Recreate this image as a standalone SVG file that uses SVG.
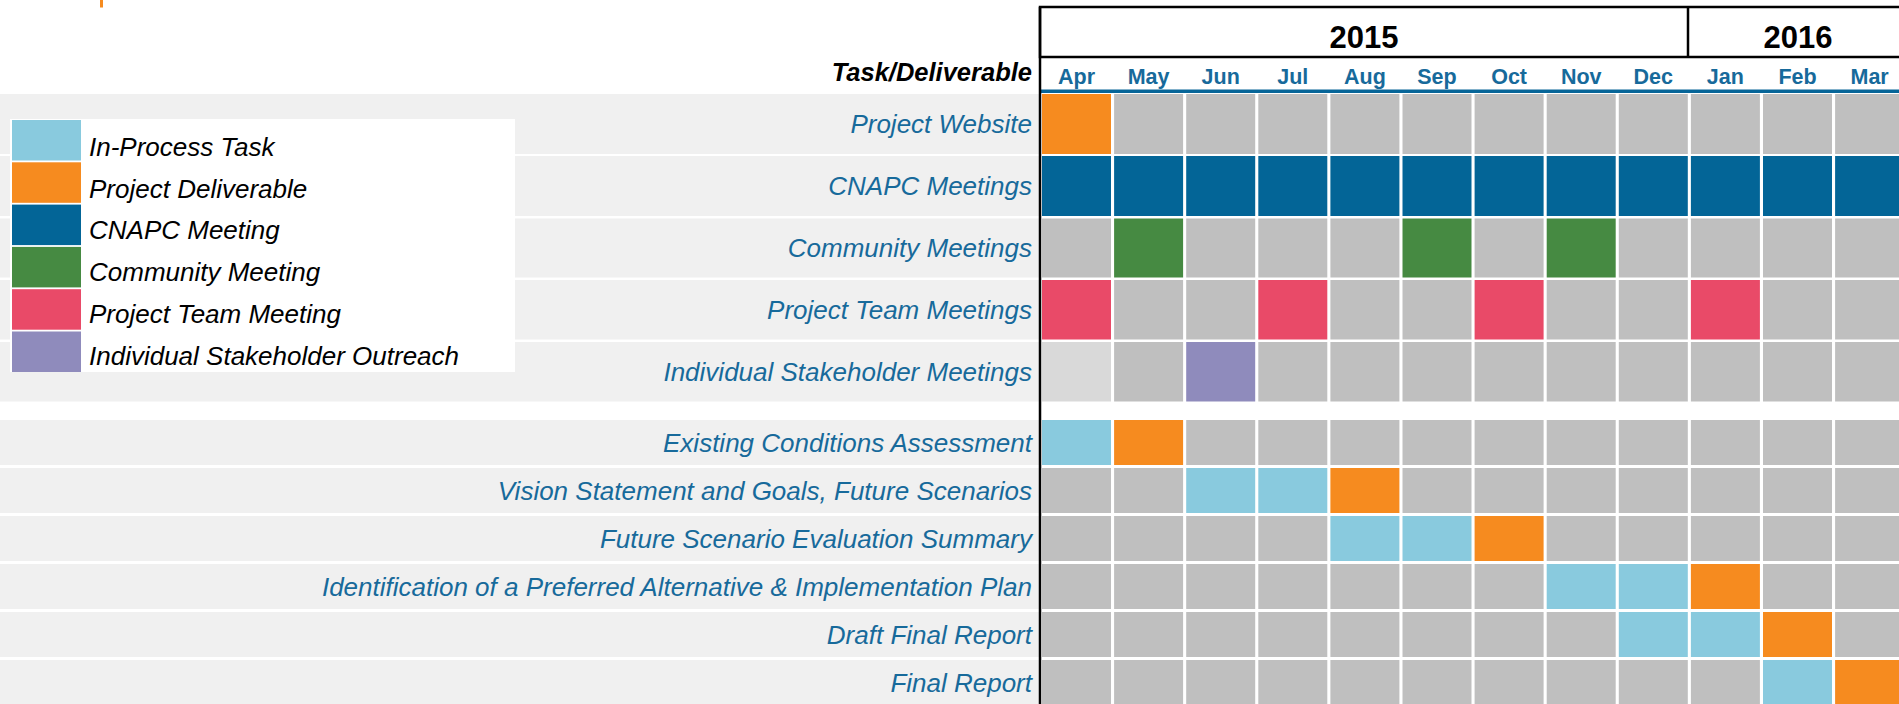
<svg xmlns="http://www.w3.org/2000/svg" width="1899" height="704" viewBox="0 0 1899 704">
<style>
.band{fill:#f0f0f0}
.g{fill:#bfbfbf}.lg{fill:#d9d9d9}.o{fill:#f68b1f}.n{fill:#036597}.gr{fill:#468a42}.p{fill:#e94a68}.pu{fill:#8f8bbc}.lb{fill:#89cade}
.lbl{font-family:"Liberation Sans",Arial,sans-serif;font-style:italic;font-size:26px;fill:#176a9b;text-anchor:end}
.leg{font-family:"Liberation Sans",Arial,sans-serif;font-style:italic;font-size:26px;fill:#000}
.mon{font-family:"Liberation Sans",Arial,sans-serif;font-weight:bold;font-size:21.5px;fill:#176a9b;text-anchor:middle}
.yr{font-family:"Liberation Sans",Arial,sans-serif;font-weight:bold;font-size:31px;fill:#000;text-anchor:middle}
.hdr{font-family:"Liberation Sans",Arial,sans-serif;font-weight:bold;font-style:italic;font-size:25.5px;fill:#000;text-anchor:end}
</style>
<rect x="0" y="0" width="1899" height="704" fill="#fff"/>
<rect x="100" y="0" width="3" height="7.5" fill="#f68b1f"/>

<g id="header">
<rect x="1040" y="7" width="900" height="50" fill="none" stroke="#000" stroke-width="2.5"/>
<line x1="1688" y1="7" x2="1688" y2="58" stroke="#000" stroke-width="2.5"/>
<text class="yr" x="1364" y="47.5">2015</text>
<text class="yr" x="1798" y="47.5">2016</text>
<text class="hdr" x="1032" y="81">Task/Deliverable</text>
<text class="mon" x="1076.5" y="84">Apr</text>
<text class="mon" x="1148.6" y="84">May</text>
<text class="mon" x="1220.7" y="84">Jun</text>
<text class="mon" x="1292.8" y="84">Jul</text>
<text class="mon" x="1364.9" y="84">Aug</text>
<text class="mon" x="1437" y="84">Sep</text>
<text class="mon" x="1509.1" y="84">Oct</text>
<text class="mon" x="1581.2" y="84">Nov</text>
<text class="mon" x="1653.3" y="84">Dec</text>
<text class="mon" x="1725.4" y="84">Jan</text>
<text class="mon" x="1797.5" y="84">Feb</text>
<text class="mon" x="1869.6" y="84">Mar</text>
<rect x="1040" y="89.5" width="860" height="3.5" fill="#066598"/>
</g>

<g id="row-project-website">
<rect class="band" x="0" y="94" width="1040" height="60"/>
<text class="lbl" x="1032" y="133">Project Website</text>
<rect class="o" x="1042" y="94" width="69" height="60"/>
<rect class="g" x="1114.1" y="94" width="69" height="60"/><rect class="g" x="1186.2" y="94" width="69" height="60"/><rect class="g" x="1258.3" y="94" width="69" height="60"/><rect class="g" x="1330.4" y="94" width="69" height="60"/><rect class="g" x="1402.5" y="94" width="69" height="60"/><rect class="g" x="1474.6" y="94" width="69" height="60"/><rect class="g" x="1546.7" y="94" width="69" height="60"/><rect class="g" x="1618.8" y="94" width="69" height="60"/><rect class="g" x="1690.9" y="94" width="69" height="60"/><rect class="g" x="1763" y="94" width="69" height="60"/><rect class="g" x="1835.1" y="94" width="69" height="60"/>
</g>

<g id="row-cnapc-meetings">
<rect class="band" x="0" y="156" width="1040" height="60"/>
<text class="lbl" x="1032" y="195">CNAPC Meetings</text>
<rect class="n" x="1042" y="156" width="69" height="60"/><rect class="n" x="1114.1" y="156" width="69" height="60"/><rect class="n" x="1186.2" y="156" width="69" height="60"/><rect class="n" x="1258.3" y="156" width="69" height="60"/><rect class="n" x="1330.4" y="156" width="69" height="60"/><rect class="n" x="1402.5" y="156" width="69" height="60"/><rect class="n" x="1474.6" y="156" width="69" height="60"/><rect class="n" x="1546.7" y="156" width="69" height="60"/><rect class="n" x="1618.8" y="156" width="69" height="60"/><rect class="n" x="1690.9" y="156" width="69" height="60"/><rect class="n" x="1763" y="156" width="69" height="60"/><rect class="n" x="1835.1" y="156" width="69" height="60"/>
</g>

<g id="row-community-meetings">
<rect class="band" x="0" y="218.5" width="1040" height="59"/>
<text class="lbl" x="1032" y="257">Community Meetings</text>
<rect class="g" x="1042" y="218.5" width="69" height="59"/><rect class="gr" x="1114.1" y="218.5" width="69" height="59"/><rect class="g" x="1186.2" y="218.5" width="69" height="59"/><rect class="g" x="1258.3" y="218.5" width="69" height="59"/><rect class="g" x="1330.4" y="218.5" width="69" height="59"/><rect class="gr" x="1402.5" y="218.5" width="69" height="59"/><rect class="g" x="1474.6" y="218.5" width="69" height="59"/><rect class="gr" x="1546.7" y="218.5" width="69" height="59"/><rect class="g" x="1618.8" y="218.5" width="69" height="59"/><rect class="g" x="1690.9" y="218.5" width="69" height="59"/><rect class="g" x="1763" y="218.5" width="69" height="59"/><rect class="g" x="1835.1" y="218.5" width="69" height="59"/>
</g>

<g id="row-project-team-meetings">
<rect class="band" x="0" y="280" width="1040" height="59.5"/>
<text class="lbl" x="1032" y="319">Project Team Meetings</text>
<rect class="p" x="1042" y="280" width="69" height="59.5"/><rect class="g" x="1114.1" y="280" width="69" height="59.5"/><rect class="g" x="1186.2" y="280" width="69" height="59.5"/><rect class="p" x="1258.3" y="280" width="69" height="59.5"/><rect class="g" x="1330.4" y="280" width="69" height="59.5"/><rect class="g" x="1402.5" y="280" width="69" height="59.5"/><rect class="p" x="1474.6" y="280" width="69" height="59.5"/><rect class="g" x="1546.7" y="280" width="69" height="59.5"/><rect class="g" x="1618.8" y="280" width="69" height="59.5"/><rect class="p" x="1690.9" y="280" width="69" height="59.5"/><rect class="g" x="1763" y="280" width="69" height="59.5"/><rect class="g" x="1835.1" y="280" width="69" height="59.5"/>
</g>

<g id="row-individual-stakeholder-meetings">
<rect class="band" x="0" y="342" width="1040" height="59.5"/>
<text class="lbl" x="1032" y="381">Individual Stakeholder Meetings</text>
<rect class="lg" x="1042" y="342" width="69" height="59.5"/><rect class="g" x="1114.1" y="342" width="69" height="59.5"/><rect class="pu" x="1186.2" y="342" width="69" height="59.5"/><rect class="g" x="1258.3" y="342" width="69" height="59.5"/><rect class="g" x="1330.4" y="342" width="69" height="59.5"/><rect class="g" x="1402.5" y="342" width="69" height="59.5"/><rect class="g" x="1474.6" y="342" width="69" height="59.5"/><rect class="g" x="1546.7" y="342" width="69" height="59.5"/><rect class="g" x="1618.8" y="342" width="69" height="59.5"/><rect class="g" x="1690.9" y="342" width="69" height="59.5"/><rect class="g" x="1763" y="342" width="69" height="59.5"/><rect class="g" x="1835.1" y="342" width="69" height="59.5"/>
</g>

<g id="row-existing-conditions">
<rect class="band" x="0" y="420" width="1040" height="45"/>
<text class="lbl" x="1032" y="451.5">Existing Conditions Assessment</text>
<rect class="lb" x="1042" y="420" width="69" height="45"/><rect class="o" x="1114.1" y="420" width="69" height="45"/><rect class="g" x="1186.2" y="420" width="69" height="45"/><rect class="g" x="1258.3" y="420" width="69" height="45"/><rect class="g" x="1330.4" y="420" width="69" height="45"/><rect class="g" x="1402.5" y="420" width="69" height="45"/><rect class="g" x="1474.6" y="420" width="69" height="45"/><rect class="g" x="1546.7" y="420" width="69" height="45"/><rect class="g" x="1618.8" y="420" width="69" height="45"/><rect class="g" x="1690.9" y="420" width="69" height="45"/><rect class="g" x="1763" y="420" width="69" height="45"/><rect class="g" x="1835.1" y="420" width="69" height="45"/>
</g>

<g id="row-vision-statement">
<rect class="band" x="0" y="468" width="1040" height="45"/>
<text class="lbl" x="1032" y="499.5">Vision Statement and Goals, Future Scenarios</text>
<rect class="g" x="1042" y="468" width="69" height="45"/><rect class="g" x="1114.1" y="468" width="69" height="45"/><rect class="lb" x="1186.2" y="468" width="69" height="45"/><rect class="lb" x="1258.3" y="468" width="69" height="45"/><rect class="o" x="1330.4" y="468" width="69" height="45"/><rect class="g" x="1402.5" y="468" width="69" height="45"/><rect class="g" x="1474.6" y="468" width="69" height="45"/><rect class="g" x="1546.7" y="468" width="69" height="45"/><rect class="g" x="1618.8" y="468" width="69" height="45"/><rect class="g" x="1690.9" y="468" width="69" height="45"/><rect class="g" x="1763" y="468" width="69" height="45"/><rect class="g" x="1835.1" y="468" width="69" height="45"/>
</g>

<g id="row-future-scenario-evaluation">
<rect class="band" x="0" y="516" width="1040" height="45"/>
<text class="lbl" x="1032" y="547.5">Future Scenario Evaluation Summary</text>
<rect class="g" x="1042" y="516" width="69" height="45"/><rect class="g" x="1114.1" y="516" width="69" height="45"/><rect class="g" x="1186.2" y="516" width="69" height="45"/><rect class="g" x="1258.3" y="516" width="69" height="45"/><rect class="lb" x="1330.4" y="516" width="69" height="45"/><rect class="lb" x="1402.5" y="516" width="69" height="45"/><rect class="o" x="1474.6" y="516" width="69" height="45"/><rect class="g" x="1546.7" y="516" width="69" height="45"/><rect class="g" x="1618.8" y="516" width="69" height="45"/><rect class="g" x="1690.9" y="516" width="69" height="45"/><rect class="g" x="1763" y="516" width="69" height="45"/><rect class="g" x="1835.1" y="516" width="69" height="45"/>
</g>

<g id="row-preferred-alternative">
<rect class="band" x="0" y="564" width="1040" height="45"/>
<text class="lbl" x="1032" y="595.5">Identification of a Preferred Alternative &amp; Implementation Plan</text>
<rect class="g" x="1042" y="564" width="69" height="45"/><rect class="g" x="1114.1" y="564" width="69" height="45"/><rect class="g" x="1186.2" y="564" width="69" height="45"/><rect class="g" x="1258.3" y="564" width="69" height="45"/><rect class="g" x="1330.4" y="564" width="69" height="45"/><rect class="g" x="1402.5" y="564" width="69" height="45"/><rect class="g" x="1474.6" y="564" width="69" height="45"/><rect class="lb" x="1546.7" y="564" width="69" height="45"/><rect class="lb" x="1618.8" y="564" width="69" height="45"/><rect class="o" x="1690.9" y="564" width="69" height="45"/><rect class="g" x="1763" y="564" width="69" height="45"/><rect class="g" x="1835.1" y="564" width="69" height="45"/>
</g>

<g id="row-draft-final-report">
<rect class="band" x="0" y="612" width="1040" height="45"/>
<text class="lbl" x="1032" y="643.5">Draft Final Report</text>
<rect class="g" x="1042" y="612" width="69" height="45"/><rect class="g" x="1114.1" y="612" width="69" height="45"/><rect class="g" x="1186.2" y="612" width="69" height="45"/><rect class="g" x="1258.3" y="612" width="69" height="45"/><rect class="g" x="1330.4" y="612" width="69" height="45"/><rect class="g" x="1402.5" y="612" width="69" height="45"/><rect class="g" x="1474.6" y="612" width="69" height="45"/><rect class="g" x="1546.7" y="612" width="69" height="45"/><rect class="lb" x="1618.8" y="612" width="69" height="45"/><rect class="lb" x="1690.9" y="612" width="69" height="45"/><rect class="o" x="1763" y="612" width="69" height="45"/><rect class="g" x="1835.1" y="612" width="69" height="45"/>
</g>

<g id="row-final-report">
<rect class="band" x="0" y="660" width="1040" height="45"/>
<text class="lbl" x="1032" y="691.5">Final Report</text>
<rect class="g" x="1042" y="660" width="69" height="45"/><rect class="g" x="1114.1" y="660" width="69" height="45"/><rect class="g" x="1186.2" y="660" width="69" height="45"/><rect class="g" x="1258.3" y="660" width="69" height="45"/><rect class="g" x="1330.4" y="660" width="69" height="45"/><rect class="g" x="1402.5" y="660" width="69" height="45"/><rect class="g" x="1474.6" y="660" width="69" height="45"/><rect class="g" x="1546.7" y="660" width="69" height="45"/><rect class="g" x="1618.8" y="660" width="69" height="45"/><rect class="g" x="1690.9" y="660" width="69" height="45"/><rect class="lb" x="1763" y="660" width="69" height="45"/><rect class="o" x="1835.1" y="660" width="69" height="45"/>
</g>

<line id="axis" x1="1040" y1="7" x2="1040" y2="704" stroke="#000" stroke-width="2.5"/>

<g id="legend">
<rect x="10" y="119" width="505" height="253" fill="#fff"/>
<rect class="lb" x="12" y="120" width="69" height="40.5"/>
<rect class="o" x="12" y="162.3" width="69" height="40.5"/>
<rect class="n" x="12" y="204.6" width="69" height="40.5"/>
<rect class="gr" x="12" y="246.9" width="69" height="40.5"/>
<rect class="p" x="12" y="289.2" width="69" height="40.5"/>
<rect class="pu" x="12" y="331.5" width="69" height="40.5"/>
<text class="leg" x="89" y="155.7">In-Process Task</text>
<text class="leg" x="89" y="197.5">Project Deliverable</text>
<text class="leg" x="89" y="239.3">CNAPC Meeting</text>
<text class="leg" x="89" y="281.1">Community Meeting</text>
<text class="leg" x="89" y="322.9">Project Team Meeting</text>
<text class="leg" x="89" y="364.7">Individual Stakeholder Outreach</text>
</g>

<g id="connectors"/>
</svg>
